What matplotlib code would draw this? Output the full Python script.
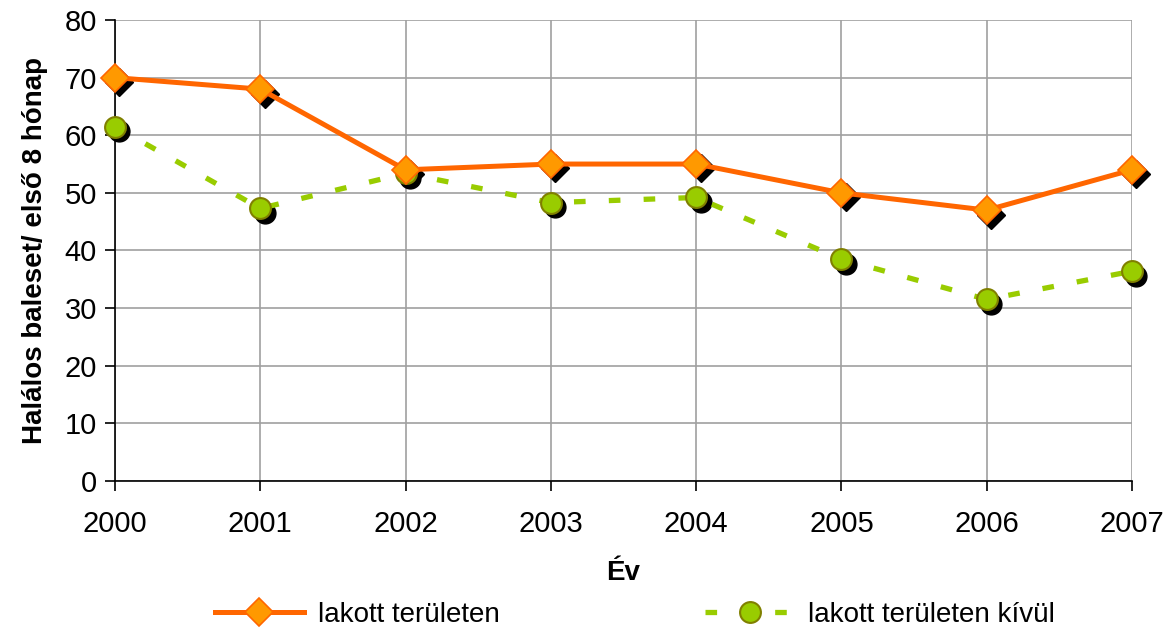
import matplotlib
matplotlib.use("Agg")
import matplotlib.pyplot as plt
import matplotlib.transforms as mtransforms

years = [2000, 2001, 2002, 2003, 2004, 2005, 2006, 2007]
lakott = [70, 68, 54, 55, 55, 50, 47, 54]
kivul = [61.5, 47.3, 53.4, 48.3, 49.2, 38.5, 31.5, 36.4]
series_names = ["lakott területen", "lakott területen kívül"]
y_ticks = [0, 10, 20, 30, 40, 50, 60, 70, 80]

plt.rcParams['font.family'] = ['Liberation Sans', 'DejaVu Sans']

fig = plt.figure(figsize=(11.67, 6.34), dpi=100)
ax = fig.add_axes([0.0985, 0.2413, 0.8715, 0.7272])

shadow = ax.transData + mtransforms.ScaledTranslation(3.2/72, -3.2/72, fig.dpi_scale_trans)

# shadows
ax.plot(years, lakott, linestyle='none', marker='D', markersize=14.5,
        color='black', transform=shadow, zorder=2, clip_on=False)
ax.plot(years, kivul, linestyle='none', marker='o', markersize=15,
        color='black', transform=shadow, zorder=2, clip_on=False)

l1, = ax.plot(years, lakott, color='#FF6600', linewidth=3.6, marker='D',
              markersize=14.5, markerfacecolor='#FF9900', markeredgecolor='#FF6600',
              markeredgewidth=1.2, zorder=4, clip_on=False, label=series_names[0])
l2, = ax.plot(years, kivul, color='#99CC00', linewidth=3.8, marker='o',
              markersize=15, markerfacecolor='#99CC00', markeredgecolor='#808000',
              markeredgewidth=1.5, zorder=3, clip_on=False, label=series_names[1])
l2.set_dashes([2.2, 4.4])

ax.set_xlim(2000, 2007)
ax.set_ylim(0, 80)
ax.set_yticks(y_ticks)
ax.set_xticks(years)
ax.grid(True, color='#A0A0A0', linewidth=1.2)
ax.set_axisbelow(True)
for s in ['top', 'right']:
    ax.spines[s].set_visible(False)
for s in ['left', 'bottom']:
    ax.spines[s].set_color('black')
    ax.spines[s].set_linewidth(1.2)
ax.tick_params(axis='both', labelsize=21, length=7, width=1.2, direction='out')
ax.tick_params(axis='x', pad=14)
ax.tick_params(axis='y', pad=6)

ax.set_xlabel("Év", fontsize=20, fontweight='bold', labelpad=16)
ax.set_ylabel("Halálos baleset/ első 8 hónap", fontsize=20, fontweight='bold', labelpad=12)

fig.legend(handles=[l1, l2], labels=series_names, loc='lower center',
           bbox_to_anchor=(0.544, -0.03), ncol=2, frameon=False, fontsize=20,
           columnspacing=7.4, handlelength=3.2, handletextpad=0.5)

fig.savefig("out.png", dpi=100)
